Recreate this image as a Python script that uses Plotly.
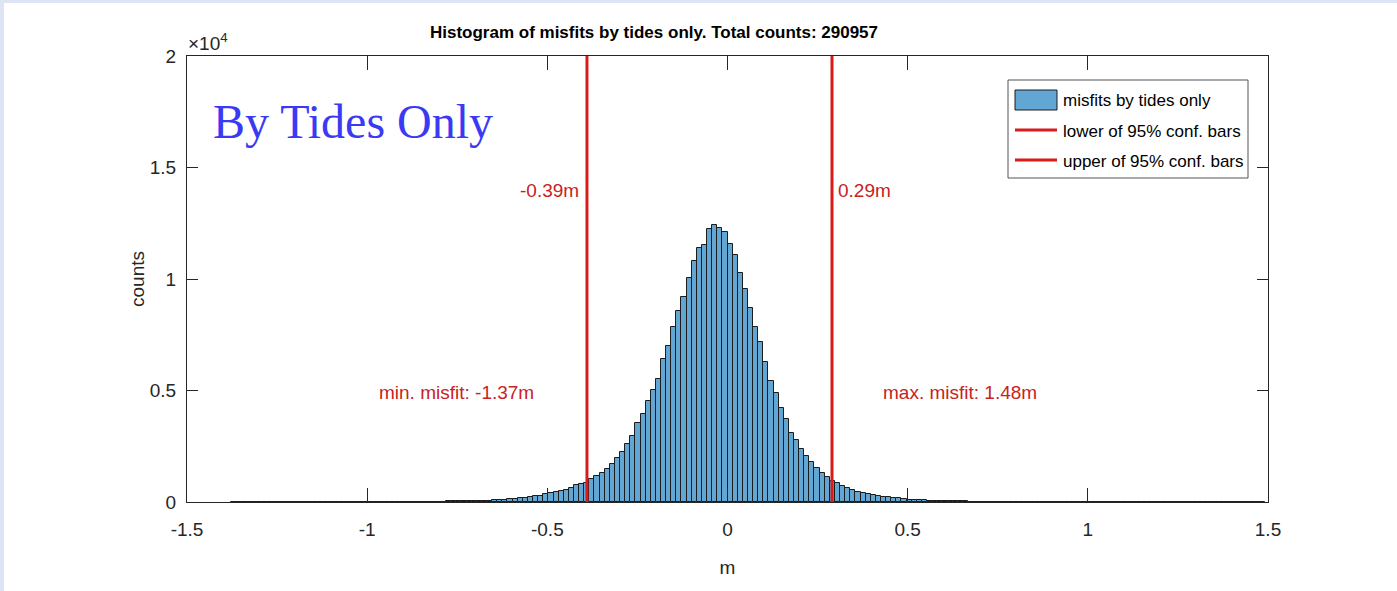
import numpy as np
import plotly.graph_objects as go

# ---------------- data ----------------
bin_width = 0.0142
first_bin_left = -1.3774          # left edge of first histogram bin (m)

# counts per bin, left to right
counts_left_tail = [1, 0, 0, 1, 0, 1, 1, 0, 2, 1, 1, 2, 1, 2, 3, 2, 3, 3,
                    2, 3, 2, 3, 3, 4, 3, 4, 5, 4, 5, 6, 6, 7, 8, 8, 9, 10, 12, 14,
                    16, 18, 20, 22, 25, 28, 31, 35, 39, 44, 50, 57, 66, 77, 90, 105,
                    122, 145, 170, 200, 235]
counts_rise = [270, 280, 380, 390, 470, 480, 540, 625, 750, 805, 840, 1015, 1165,
               1285, 1465, 1705, 1985, 2230, 2600, 2960, 3530, 3945, 4530, 5020]
counts_peak = [5500, 6400, 7010, 7860, 8565, 9190, 10045, 10820, 11375, 11540,
               12230, 12435, 12270, 12105, 11585, 11075, 10270, 9540, 8700, 7830,
               7160, 6290, 5425, 4870]
counts_fall = [4230, 3710, 3080, 2780, 2365, 2060, 1795, 1525, 1285, 1105, 955,
               840, 715, 615, 540, 460, 400, 355, 310, 260, 235, 205, 175, 160,
               135, 110, 95]
counts_right_tail = [82, 71, 62, 54, 47, 41, 36, 31, 27, 23, 20, 17, 15, 13,
                     11, 10, 9, 8, 7, 7, 6, 5, 5, 4, 4, 4, 3, 3, 3, 2, 2, 3, 2, 2,
                     2, 1, 2, 1, 1, 1, 2, 1, 1, 0, 1, 1, 0, 1, 0, 1, 1, 0, 0, 1, 0,
                     1, 0, 0, 1, 0, 0, 1, 0, 0, 0, 1, 0, 1]

conf_lower = -0.39
conf_upper = 0.29
min_misfit = -1.37
max_misfit = 1.48
total_counts = 290957

legend_labels = ["misfits by tides only", "lower of 95% conf. bars", "upper of 95% conf. bars"]

x_tickvals = [-1.5, -1, -0.5, 0, 0.5, 1, 1.5]
x_ticktext = ["-1.5", "-1", "-0.5", "0", "0.5", "1", "1.5"]
y_tickvals = [0, 5000, 10000, 15000, 20000]
y_ticktext = ["0", "0.5", "1", "1.5", "2"]
y_max = 20000

# ---------------- build figure ----------------
counts = counts_left_tail + counts_rise + counts_peak + counts_fall + counts_right_tail
centers = first_bin_left + bin_width * (np.arange(len(counts)) + 0.5)

AX = "#262626"
RED = "#d81c1c"
RED_TXT = "#c92222"
BAR = "rgb(98,166,212)"

fig = go.Figure()
fig.add_trace(go.Bar(
    x=centers, y=counts, width=bin_width,
    marker=dict(color=BAR, line=dict(color="#1c1c1c", width=1)),
    name=legend_labels[0], showlegend=False,
))
fig.add_trace(go.Scatter(
    x=[conf_lower, conf_lower], y=[0, y_max], mode="lines",
    line=dict(color=RED, width=3), name=legend_labels[1], showlegend=False,
))
fig.add_trace(go.Scatter(
    x=[conf_upper, conf_upper], y=[0, y_max], mode="lines",
    line=dict(color=RED, width=3), name=legend_labels[2], showlegend=False,
))

L, R, T, B = 187, 129, 56, 89
W, H = 1397, 591
pw, ph = W - L - R, H - T - B

def px_x(px):
    return (px - L) / pw

def px_y(py):
    return (H - B - py) / ph

fig.update_layout(
    width=W, height=H,
    margin=dict(l=L, r=R, t=T, b=B),
    paper_bgcolor="white", plot_bgcolor="white",
    bargap=0,
    font=dict(family="Liberation Sans, Arial, sans-serif", size=19, color=AX),
    title=dict(
        text=f"<b>Histogram of misfits by tides only. Total counts: {total_counts}</b>",
        x=px_x(654), xref="paper", xanchor="center",
        y=1 - 32 / H, yref="container", yanchor="middle",
        font=dict(family="Liberation Sans, Arial, sans-serif", size=17, color="black"),
    ),
    showlegend=False,
)

fig.update_xaxes(
    range=[-1.5, 1.5], tickmode="array", tickvals=x_tickvals, ticktext=x_ticktext,
    ticks="inside", ticklen=14, tickwidth=1, tickcolor=AX,
    showline=True, linecolor=AX, linewidth=1, mirror="ticks",
    showgrid=False, zeroline=False, ticklabelstandoff=10,
    title=dict(text="m", standoff=21, font=dict(size=19, color=AX)),
)
fig.update_yaxes(
    range=[0, y_max], tickmode="array", tickvals=y_tickvals, ticktext=y_ticktext,
    ticks="inside", ticklen=11, tickwidth=1, tickcolor=AX,
    showline=True, linecolor=AX, linewidth=1, mirror="ticks",
    showgrid=False, zeroline=False, ticklabelstandoff=6,
    title=dict(text="counts", standoff=0, font=dict(size=19, color=AX)),
)

annotations = [
    dict(text="×10<sup>4</sup>", xref="paper", yref="paper", x=px_x(186), y=px_y(42),
         xanchor="left", yanchor="middle", showarrow=False,
         font=dict(size=19, color=AX)),
    dict(text="By Tides Only", xref="paper", yref="paper", x=px_x(211), y=px_y(122),
         xanchor="left", yanchor="middle", showarrow=False,
         font=dict(family="Liberation Serif, Times New Roman, serif", size=48,
                   color="rgb(58,58,245)")),
    dict(text=f"{conf_lower:.2f}m", x=conf_lower, y=13950, xref="x", yref="y",
         xanchor="right", yanchor="middle", xshift=-6, showarrow=False,
         font=dict(size=19, color=RED_TXT)),
    dict(text=f"{conf_upper:.2f}m", x=conf_upper, y=13950, xref="x", yref="y",
         xanchor="left", yanchor="middle", xshift=4, showarrow=False,
         font=dict(size=19, color=RED_TXT)),
    dict(text=f"min. misfit: {min_misfit:.2f}m", x=-0.752, y=4930, xref="x", yref="y",
         xanchor="center", yanchor="middle", showarrow=False,
         font=dict(size=19, color=RED_TXT)),
    dict(text=f"max. misfit: {max_misfit:.2f}m", x=0.645, y=4930, xref="x", yref="y",
         xanchor="center", yanchor="middle", showarrow=False,
         font=dict(size=19, color=RED_TXT)),
]

# ---- legend box (MATLAB style: wide patch + line samples) ----
leg_x0, leg_x1, leg_y0, leg_y1 = 1008, 1248, 80, 178
row_y = [100, 130, 160]
shapes = [
    dict(type="rect", xref="paper", yref="paper", layer="above",
         x0=px_x(leg_x0), x1=px_x(leg_x1), y0=px_y(leg_y1), y1=px_y(leg_y0),
         fillcolor="white", line=dict(color="#555555", width=1)),
    dict(type="rect", xref="paper", yref="paper", layer="above",
         x0=px_x(1015), x1=px_x(1057), y0=px_y(row_y[0] + 10), y1=px_y(row_y[0] - 10),
         fillcolor=BAR, line=dict(color="#1c1c1c", width=1)),
]
for ry in row_y[1:]:
    shapes.append(dict(type="line", xref="paper", yref="paper", layer="above",
                       x0=px_x(1015), x1=px_x(1057), y0=px_y(ry), y1=px_y(ry),
                       line=dict(color=RED, width=3)))
for lbl, ry in zip(legend_labels, row_y):
    annotations.append(dict(text=lbl, xref="paper", yref="paper",
                            x=px_x(1061), y=px_y(ry + 1), xanchor="left", yanchor="middle",
                            showarrow=False, font=dict(size=17, color="black")))

# light-blue frame strips at the left and top edge of the picture
shapes.append(dict(type="rect", xref="paper", yref="paper", layer="below",
                   x0=px_x(0), x1=px_x(4), y0=px_y(H), y1=px_y(0),
                   fillcolor="rgb(220,228,245)", line_width=0))
shapes.append(dict(type="rect", xref="paper", yref="paper", layer="below",
                   x0=px_x(0), x1=px_x(W), y0=px_y(3), y1=px_y(0),
                   fillcolor="rgb(220,228,245)", line_width=0))

fig.update_layout(annotations=annotations, shapes=shapes)

fig.write_html("out.html")
